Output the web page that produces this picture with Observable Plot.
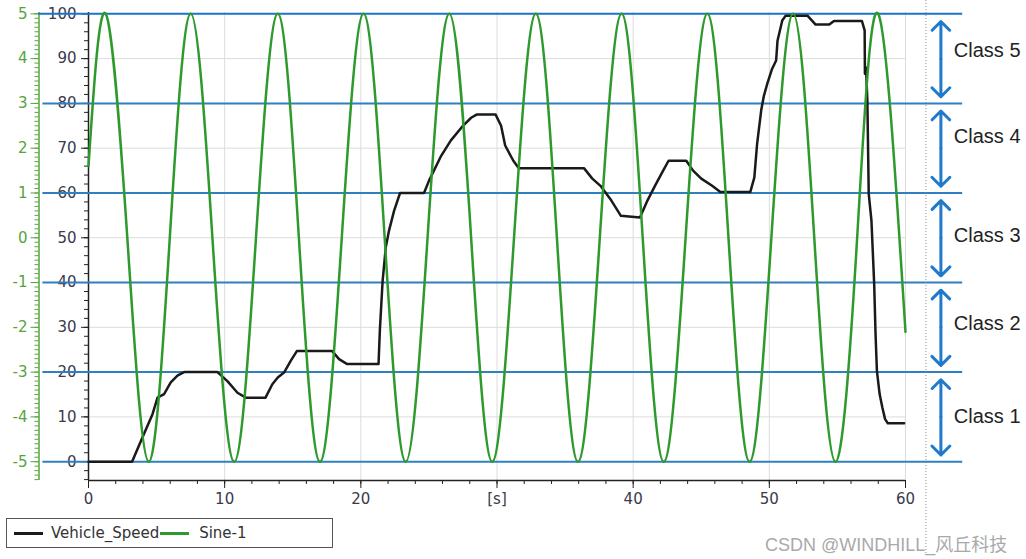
<!DOCTYPE html>
<html>
<head>
<meta charset="utf-8">
<script src="https://cdn.jsdelivr.net/npm/d3@7"></script>
<script src="https://cdn.jsdelivr.net/npm/@observablehq/plot@0.6"></script>
<style>
  html, body { margin: 0; padding: 0; background: #fff; }
  #wrap { position: relative; width: 1026px; height: 559px; overflow: hidden; }
  #wrap svg { position: absolute; left: 0; top: 0; }
  #legend {
    position: absolute; left: 6px; top: 518px; width: 327px; height: 30px;
    box-sizing: border-box; border: 1.5px solid #555; background: #fff;
    display: flex; align-items: center; padding-left: 7px;
    font-family: "DejaVu Sans", sans-serif; font-size: 15px; color: #333;
  }
  #legend .sw { display: inline-block; width: 29px; height: 0; border-top: 3px solid; }
  #watermark {
    position: absolute; left: 765px; top: 530px; white-space: nowrap;
    font-family: "Liberation Sans", Arial, "Noto Sans CJK SC", sans-serif; font-size: 18px; color: #a9a9a9;
  }
</style>
</head>
<body>
<div id="wrap">
  <div id="legend"></div>
  <div id="watermark">CSDN @WINDHILL_风丘科技</div>
</div>
<script>
// ---- data ----
const speedT = [0, 3.2, 3.96, 4.7, 5.07, 5.55, 6.04, 6.53, 7.02, 9.47, 10.2, 10.94, 11.55, 13.0, 13.5, 13.9, 14.36, 14.85, 15.3, 17.9, 18.4, 19.0, 21.3, 21.4, 21.6, 21.83, 22.07, 22.44, 22.88, 24.64, 25.0, 25.9, 26.6, 27.5, 28.1, 28.5, 29.9, 30.3, 30.6, 31.2, 31.6, 36.4, 37.0, 37.6, 38.4, 39.1, 40.5, 41.0, 41.6, 42.2, 42.6, 43.9, 44.4, 45.0, 45.8, 46.4, 48.6, 48.9, 49.1, 49.4, 49.6, 49.85, 50.2, 50.5, 50.6, 50.95, 51.2, 52.8, 53.4, 54.4, 54.75, 56.8, 57.0, 57.02, 57.1, 57.2, 57.3, 57.5, 57.7, 57.8, 57.9, 58.1, 58.3, 58.5, 58.7, 59.9];
const speedV = [0, 0, 5.4, 10.6, 14.3, 15.1, 17.7, 19.2, 20, 20, 18, 15.4, 14.3, 14.3, 17.3, 18.8, 19.9, 22.5, 24.7, 24.7, 22.9, 21.8, 21.8, 29.5, 40.4, 47.8, 51.6, 56, 60, 60, 62.7, 68.3, 71.7, 75, 76.8, 77.5, 77.5, 75, 70.6, 67.2, 65.5, 65.5, 63.2, 61.6, 58.3, 54.9, 54.5, 58, 61.6, 65, 67.2, 67.2, 65, 63.2, 61.6, 60.2, 60.2, 63.5, 70.9, 78.4, 81.7, 84.4, 87.7, 89.6, 94, 98.5, 99.6, 99.6, 97.6, 97.6, 98.4, 98.4, 96.3, 86.6, 88, 80.6, 59.8, 53.8, 39.7, 28.5, 20.3, 15.1, 12.1, 9.5, 8.6, 8.6];

// Sine-1: peaks, zero crossings and troughs
const sineT = [0, 1.27, 2.85, 4.42, 5.97, 7.51, 9.1, 10.7, 12.3, 13.9, 15.45, 17.0, 18.6, 20.2, 21.75, 23.3, 24.9, 26.5, 28.1, 29.65, 31.25, 32.85, 34.4, 35.95, 37.55, 39.15, 40.7, 42.25, 43.85, 45.45, 47.0, 48.55, 50.15, 51.75, 53.3, 54.85, 56.45, 58.0, 60];
const sineV = [1.6, 5, 0, -5, 0, 5, 0, -5, 0, 5, 0, -5, 0, 5, 0, -5, 0, 5, 0, -5, 0, 5, 0, -5, 0, 5, 0, -5, 0, 5, 0, -5, 0, 5, 0, -5, 0, 5, -2.1];

const speedTicks = [0, 10, 20, 30, 40, 50, 60, 70, 80, 90, 100];
const sineTickLabels = ["-5", "-4", "-3", "-2", "-1", "0", "1", "2", "3", "4", "5"];
const timeTicks = [0, 10, 20, 30, 40, 50, 60];
const timeTickLabels = ["0", "10", "20", "[s]", "40", "50", "60"];
const classLevels = [0, 20, 40, 60, 80, 100];
const classLo = [0, 20, 40, 60, 80];
const classNames = ["Class 1", "Class 2", "Class 3", "Class 4", "Class 5"];
const classLabelY = [10.1, 30.9, 50.5, 72.6, 91.8];
const seriesNames = ["Vehicle_Speed", "Sine-1"];

// ---- styling ----
const green = "#2e9a2e";
const axisGreen = "#55a43c";
const blue = "#2f7fc1";
const arrowBlue = "#1f7acb";
const labelGray = "#3a3a4a";
const yMin = -4.2, yMax = 100.3;

const speed = speedT.map((t, i) => ({t, v: speedV[i]}));
const sine = sineT.map((t, i) => ({t, s: sineV[i]}));
const sineToSpeed = s => (s + 5) * 10;

const annX = {arrow: 62.6, label: 63.55, divider: 61.5, lineEnd: 64.2, lineStartTop: -3.65, lineStart: -3.35};

const chart = Plot.plot({
  width: 1026,
  height: 559,
  marginLeft: 88,
  marginRight: 121,
  marginTop: 12,
  marginBottom: 79,
  x: {domain: [0, 60]},
  y: {domain: [yMin, yMax]},
  style: {fontFamily: '"DejaVu Sans", sans-serif', fontSize: "15px", background: "transparent", overflow: "visible"},
  marks: [
    Plot.gridX(timeTicks.slice(1), {stroke: "#dcdcdc", strokeOpacity: 1}),
    Plot.gridY(speedTicks.slice(1), {stroke: "#dcdcdc", strokeOpacity: 1}),

    // black (speed) axis
    Plot.axisY(d3.range(-4, 101, 2), {anchor: "left", tickSize: 4, tickFormat: () => "", label: null, stroke: "#222"}),
    Plot.axisY(speedTicks, {anchor: "left", tickSize: 7, tickPadding: 5, label: null, stroke: "#222", fill: labelGray, tickFormat: d => String(d)}),
    Plot.ruleX([0], {y1: yMin, y2: yMax, stroke: "#222", strokeWidth: 1.5}),

    // green (sine) axis
    Plot.axisY(d3.range(-4, 101, 1), {anchor: "left", dx: -49.5, tickSize: 4, tickFormat: () => "", label: null, stroke: axisGreen}),
    Plot.axisY(speedTicks, {anchor: "left", dx: -49.5, tickSize: 8, tickPadding: 3.5, label: null, stroke: axisGreen, fill: axisGreen, tickFormat: (d, i) => sineTickLabels[i]}),
    Plot.ruleX([0], {dx: -49.5, y1: yMin, y2: yMax, stroke: axisGreen, strokeWidth: 1.5}),

    // x axis
    Plot.axisX(d3.range(0, 61, 2), {anchor: "bottom", tickSize: 4, tickFormat: () => "", label: null, stroke: "#222"}),
    Plot.axisX(timeTicks, {anchor: "bottom", tickSize: 8, tickPadding: 5, label: null, stroke: "#222", fill: labelGray, tickFormat: (d, i) => timeTickLabels[i]}),
    Plot.ruleY([yMin], {x1: 0, x2: 60, stroke: "#222", strokeWidth: 1.5}),

    // class boundaries
    Plot.ruleY(classLevels, {x1: d => d === 100 ? annX.lineStartTop : annX.lineStart, x2: annX.lineEnd, stroke: d => d === 100 ? "#1c74cc" : blue, strokeWidth: 2}),
    Plot.ruleX([annX.divider], {y1: -20.5, y2: 103, stroke: "#8a8a8a", strokeDasharray: "1,2"}),

    // series
    Plot.line(speed, {x: "t", y: "v", stroke: "#1a1a1a", strokeWidth: 2.5}),
    Plot.line(sine, {x: "t", y: d => sineToSpeed(d.s), stroke: green, strokeWidth: 2.5, curve: "natural"}),

    // class arrows and labels
    Plot.arrow(classLo, {x1: annX.arrow, x2: annX.arrow, y1: d => d + 10, y2: d => d + 18.3, stroke: arrowBlue, strokeWidth: 3, headLength: 13, headAngle: 90}),
    Plot.arrow(classLo, {x1: annX.arrow, x2: annX.arrow, y1: d => d + 10, y2: d => d + 1.5, stroke: arrowBlue, strokeWidth: 3, headLength: 13, headAngle: 90}),
    Plot.text(classLo, {x: annX.label, y: (d, i) => classLabelY[i], text: (d, i) => classNames[i], textAnchor: "start", fontSize: 20, fontFamily: '"Liberation Sans", Arial, sans-serif', fill: "#222"})
  ]
});

const wrap = document.getElementById("wrap");
wrap.insertBefore(chart, wrap.firstChild);

const legend = document.getElementById("legend");
const colors = ["#1a1a1a", green];
seriesNames.forEach((name, i) => {
  const sw = document.createElement("span");
  sw.className = "sw";
  sw.style.borderTopColor = colors[i];
  sw.style.marginLeft = i === 0 ? "0px" : "1px";
  const tx = document.createElement("span");
  tx.textContent = name;
  tx.style.marginLeft = i === 0 ? "8px" : "10px";
  legend.appendChild(sw);
  legend.appendChild(tx);
});
</script>
</body>
</html>
